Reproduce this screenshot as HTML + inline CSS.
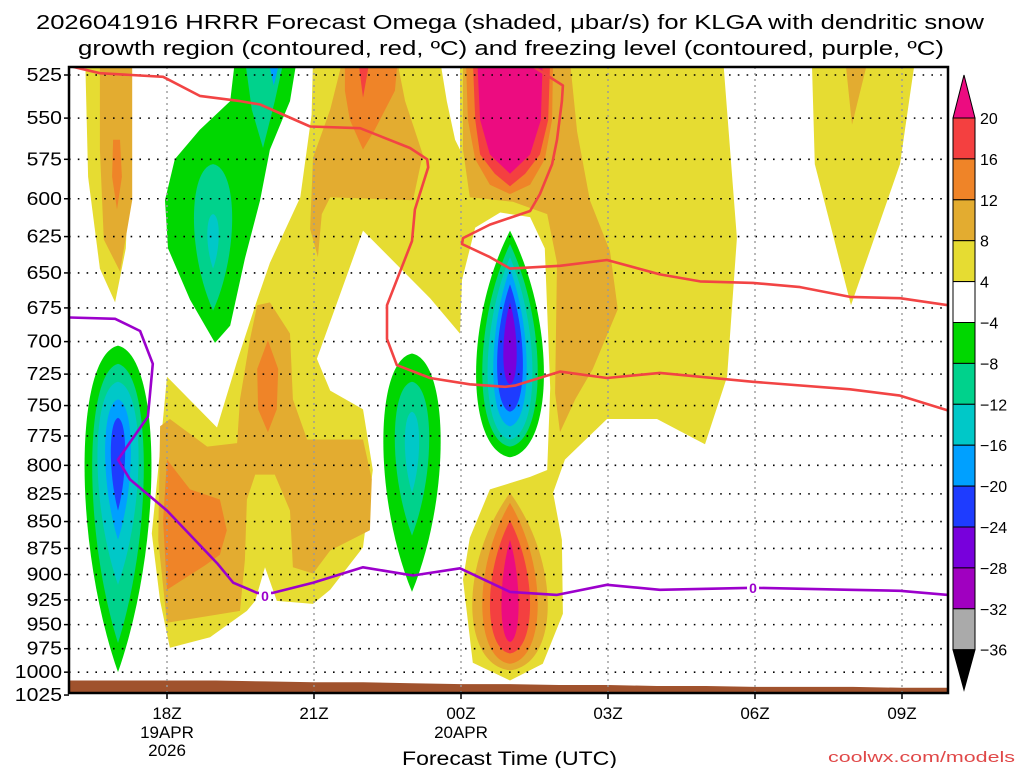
<!DOCTYPE html>
<html><head><meta charset="utf-8"><style>
html,body{margin:0;padding:0;background:#fff;}
svg{display:block;font-family:"Liberation Sans",sans-serif;}
</style></head><body>
<svg id="chart" width="1024" height="768" viewBox="0 0 1024 768" xmlns="http://www.w3.org/2000/svg">
<defs><clipPath id="plotclip"><rect x="69" y="67" width="879" height="626"/></clipPath></defs>
<text x="36" y="29" font-size="20" textLength="948" lengthAdjust="spacingAndGlyphs">2026041916 HRRR Forecast Omega (shaded, μbar/s) for KLGA with dendritic snow</text>
<text x="78" y="55" font-size="20" textLength="866" lengthAdjust="spacingAndGlyphs">growth region (contoured, red, ºC) and freezing level (contoured, purple, ºC)</text>
<g id="plot" clip-path="url(#plotclip)"></g>
<g id="axes"></g>
<g id="cbar"></g>
<text x="402" y="765" font-size="19" textLength="215" lengthAdjust="spacingAndGlyphs">Forecast Time (UTC)</text>
<text x="828" y="762" font-size="15" fill="#e04848" textLength="187" lengthAdjust="spacingAndGlyphs">coolwx.com/models</text>
</svg>
<script>
// ---- data (time t = hours since 16Z 19 APR, pressure in hPa) ----
const pressureTicks = [525,550,575,600,625,650,675,700,725,750,775,800,825,850,875,900,925,950,975,1000,1025];
const timeTicks = [2,5,8,11,14,17];
const timeLabels = ["18Z","21Z","00Z","03Z","06Z","09Z"];
const cbarLevels = [20,16,12,8,4,-4,-8,-12,-16,-20,-24,-28,-32,-36];
const surfacePressure = [1009,1009,1009,1009,1010,1011,1011,1012,1013,1013,1014,1014,1015,1015,1016,1016,1016,1017,1017];

const yellowMain = [[4.98,516],[7.57,516],[7.71,540],[7.88,563],[7.98,569],[7.98,516],[13.35,516],[13.63,626],[13.43,727],[12.98,782],[12.0,761],[10.98,761],[10.12,795],[9.88,824],[10.06,867],[10.08,939],[9.67,991],[9.0,1009],[8.24,990],[8.04,905],[8.18,865],[8.59,821],[9.41,810],[9.76,804],[9.82,736],[9.71,633],[9.41,612],[8.8,609],[8.29,619],[8.02,655],[7.98,694],[7.37,668],[6.0,621],[5.06,713],[5.33,738],[6.0,753],[6.2,804],[6.0,874],[5.33,915],[4.98,929],[4.24,926],[4.0,893],[3.8,926],[3.63,936],[2.88,963],[2.06,974],[1.86,926],[1.69,861],[1.86,787],[2.0,727],[3.02,768],[3.43,715],[3.84,669],[4.1,643],[4.72,599],[4.95,548]];
const yellowLeft = [[0.33,516],[1.2,516],[1.24,569],[1.16,633],[0.94,671],[0.63,647],[0.39,586]];
const yellowRight = [[15.16,516],[17.27,516],[16.96,578],[15.96,673],[15.22,578]];
const goldLeft = [[0.63,516],[1.29,516],[1.29,601],[1.04,649],[0.71,627],[0.63,569]];
const goldUpper = [[5.59,516],[6.69,516],[6.86,540],[7.22,572],[7.02,601],[5.33,599],[5.16,610],[5.08,639],[4.92,620],[4.98,574],[5.33,545]];
const goldCenter = [[8.04,516],[10.22,516],[10.37,558],[10.63,601],[11.04,635],[11.2,676],[10.69,721],[10.33,745],[10.02,772],[9.92,740],[9.96,643],[9.76,610],[9.06,602],[8.18,599],[8.04,569]];
const goldLower = [[3.84,673],[4.1,671],[4.51,694],[4.57,745],[4.86,778],[6.0,778],[6.18,812],[6.14,858],[5.33,877],[4.98,899],[4.57,893],[4.51,840],[4.2,808],[3.8,808],[3.63,830],[3.59,886],[3.49,936],[2.0,948],[1.82,867],[1.86,767],[2.06,761],[2.82,784],[3.43,781],[3.49,745],[3.69,699]];
const goldRight = [[15.84,516],[16.31,516],[15.98,554]];
const orangeLeft = [[0.9,563],[1.04,563],[1.08,586],[0.98,607],[0.88,586]];
const orangeUpper = [[5.63,516],[6.71,516],[6.65,534],[6.24,557],[6.0,569],[5.73,551],[5.63,534]];
const orangeCenter = [[8.1,516],[9.88,516],[9.86,551],[9.71,575],[9.41,591],[9.0,597],[8.59,591],[8.29,575],[8.14,551]];
const orangeLow1 = [[4.06,699],[4.27,721],[4.24,753],[4.06,772],[3.86,753],[3.84,721]];
const orangeLow2 = [[2.0,795],[2.47,821],[3.08,830],[3.22,858],[3.08,881],[2.78,891],[2.0,915],[1.92,849]];
const redUpper = [[5.9,516],[6.14,516],[6.0,538]];
const redCenter = [[8.24,516],[9.82,516],[9.78,551],[9.61,572],[9.31,584],[9.0,592],[8.69,584],[8.39,572],[8.29,551]];
const magentaCenter = [[8.33,516],[9.67,516],[9.63,551],[9.41,572],[9.0,584],[8.59,572],[8.39,551]];
const greenUpper = [[3.39,516],[4.65,516],[4.51,540],[4.1,569],[3.9,601],[3.59,640],[3.29,688],[2.98,701],[2.47,669],[2.02,633],[1.96,601],[2.16,575],[2.67,557],[3.29,540]];
const tealUpper = [[3.59,516],[4.39,516],[4.2,540],[3.96,568],[3.73,545]];
const lightBlueUpper = [[4.06,516],[4.31,516],[4.18,531]];
// lens blobs: [centre time, top pressure, bottom pressure, half-width hours, level, roundEnd(1=top,-1=bottom)]
const lensBlobs = [
 [9.0,824,998,0.79,8,-1],[9.0,833,991,0.58,12,-1],[9.0,849,980,0.42,16,-1],[9.0,867,968,0.18,20,-1],
 [1.0,703,1000,0.70,-4,1],[1.0,717,969,0.54,-8,1],[1.0,731,910,0.43,-12,1],[1.0,745,867,0.27,-16,1],[1.0,760,840,0.15,-20,1],
 [2.94,578,677,0.40,-8,1],[2.94,610,647,0.12,-12,1],
 [7.0,709,917,0.60,-4,1],[7.0,731,863,0.36,-8,1],[7.0,755,824,0.15,-12,1],
 [9.0,621,793,0.71,-4,-1],[9.0,630,784,0.58,-8,-1],[9.0,639,778,0.47,-12,-1],[9.0,647,767,0.35,-16,-1],[9.0,658,755,0.27,-20,-1],[9.0,671,733,0.14,-24,-1]
];
const dgzLower = [[0.02,520],[0.63,524],[1.92,526],[2.67,537],[3.49,540],[3.9,542],[4.92,555],[5.94,556],[6.96,568],[7.31,575],[7.33,580],[7.06,607],[7.0,628],[6.49,673],[6.49,698],[6.69,718],[7.37,728],[8.18,733],[8.9,735],[9.1,734],[10.02,723],[10.98,728],[12.06,724],[13.96,731],[15.94,737],[16.96,742],[17.94,754]];
const dgzUpper = [[9.35,518],[10.08,531],[10.06,540],[9.96,563],[9.86,578],[9.61,597],[9.41,608],[8.59,617],[8.04,626],[8.02,630],[8.59,639],[9.0,647],[10.02,645],[10.98,641],[12.06,651],[12.88,656],[13.96,657],[14.92,660],[15.94,667],[16.96,668],[17.94,673]];
const freezingLevel = [[0.02,682],[0.94,683],[1.45,692],[1.71,717],[1.61,759],[1.0,795],[1.24,812],[2.0,840],[3.02,889],[3.35,908],[3.84,918],[4.16,918],[4.98,908],[6.0,893],[7.02,901],[7.98,894],[9.0,917],[9.96,920],[10.98,910],[12.06,915],[13.96,913],[15.94,915],[16.96,916],[17.94,920]];
const freezingLabels = [[4.0,921],[13.96,913]];

const colors = {"20":"#ec0c80","16":"#f44040","12":"#ef8428","8":"#e3ac30","4":"#e6dc32","-4":"#00d700","-8":"#00d28c","-12":"#00c8c8","-16":"#00a0ff","-20":"#1e3cff","-24":"#7800dc","-28":"#a000c0","-32":"#aaaaaa"};

const polyShapes = [
 [yellowMain,4,'yellow-region-main'],[yellowLeft,4,'yellow-region-left'],[yellowRight,4,'yellow-region-right'],
 [goldLeft,8,'gold-region-left'],[goldUpper,8,'gold-region-upper'],[goldCenter,8,'gold-region-center'],[goldLower,8,'gold-region-lower'],[goldRight,8,'gold-region-right'],
 [orangeLeft,12,'orange-region-left'],[orangeUpper,12,'orange-region-upper'],[orangeCenter,12,'orange-region-center'],[orangeLow1,12,'orange-region-low1'],[orangeLow2,12,'orange-region-low2'],
 [redUpper,16,'red-region-upper'],[redCenter,16,'red-region-center'],[magentaCenter,20,'magenta-region-center'],
 [greenUpper,-4,'green-region-upper'],[tealUpper,-8,'teal-region-upper'],[lightBlueUpper,-16,'lightblue-region-upper']
];

// ---- axis functions ----
function X(t){return 69+49*t;}
function Y(p){return 75+620*Math.log(p/525)/0.669;}
const NS="http://www.w3.org/2000/svg";
function mk(tag,attrs,parent){const e=document.createElementNS(NS,tag);for(const k in attrs)e.setAttribute(k,attrs[k]);parent.appendChild(e);return e;}
const plot=document.getElementById('plot'), axes=document.getElementById('axes'), cbar=document.getElementById('cbar');

function order(l){return l>0? l : 100-l;}
const items=[];
polyShapes.forEach(s=>items.push({kind:'poly',pts:s[0],level:s[1],name:s[2]}));
lensBlobs.forEach(b=>items.push({kind:'lens',b:b,level:b[4],name:'omega-blob'}));
items.sort((a,b)=>order(a.level)-order(b.level));
items.forEach(it=>{
  let d;
  if(it.kind==='poly'){
    d='M'+it.pts.map(q=>X(q[0]).toFixed(1)+','+Y(q[1]).toFixed(1)).join(' L')+' Z';
  } else {
    const b=it.b, xc=X(b[0]), yt=Y(b[1]), yb=Y(b[2]), w=49*b[3]/0.75, h=yb-yt;
    if(b[5]>0){
      d=`M${xc},${yt} C${xc+w*0.95},${yt+h*0.03} ${xc+w},${yb-h*0.4} ${xc},${yb} C${xc-w},${yb-h*0.4} ${xc-w*0.95},${yt+h*0.03} ${xc},${yt} Z`;
    } else {
      d=`M${xc},${yb} C${xc+w*0.95},${yb-h*0.03} ${xc+w},${yt+h*0.4} ${xc},${yt} C${xc-w},${yt+h*0.4} ${xc-w*0.95},${yb-h*0.03} ${xc},${yb} Z`;
    }
  }
  const e=mk('path',{d:d,fill:colors[String(it.level)]},plot);
  
  
});

// ground
{
  let d='M'+X(0)+','+Y(1040);
  surfacePressure.forEach((p,i)=>{d+=' L'+X(i)+','+Y(p).toFixed(1);});
  d+=' L'+X(18)+','+Y(1040)+' Z';
  const g=mk('path',{d:d,fill:'#a0522d'},plot);
  
  
}

// grid
pressureTicks.forEach(p=>{
  const l=mk('line',{x1:69,x2:948,y1:Y(p),y2:Y(p),stroke:'#000','stroke-width':1.6,'stroke-dasharray':'1.6 7.2'},plot);
  
  
});
timeTicks.forEach(t=>{
  const l=mk('line',{x1:X(t),x2:X(t),y1:67,y2:693,stroke:'#9a9a9a','stroke-width':1.4,'stroke-dasharray':'2 4'},plot);
  
  
});

// contour lines
function line(pts,color,name){
  const e=mk('polyline',{points:pts.map(q=>X(q[0]).toFixed(1)+','+Y(q[1]).toFixed(1)).join(' '),fill:'none',stroke:color,'stroke-width':2.6,'stroke-linejoin':'round'},plot);
  
  
}
line(dgzLower,'#f24444','dgz-contour-lower');
line(dgzUpper,'#f24444','dgz-contour-upper');
line(freezingLevel,'#9c00cc','freezing-level-contour');
freezingLabels.forEach(q=>{
  const r=mk('rect',{x:X(q[0])-6,y:Y(q[1])-8,width:12,height:16,fill:'#fff'},plot);
  
  
  const t=mk('text',{x:X(q[0]),y:Y(q[1])+5,'font-size':14,'font-weight':'bold','text-anchor':'middle',fill:'#9c00cc'},plot);
  t.textContent='0';
  
  
});

// frame & axes
{
  const f=mk('rect',{x:69,y:67,width:879,height:626,fill:'none',stroke:'#000','stroke-width':2.5},axes);
  
  
}
pressureTicks.forEach(p=>{
  const tk=mk('line',{x1:64,x2:69,y1:Y(p),y2:Y(p),stroke:'#000','stroke-width':1.5},axes);
  
  
  const s=String(p);
  const t=mk('text',{x:62,y:Y(p)+6,'font-size':18,'text-anchor':'end',textLength:s.length*11.8,lengthAdjust:'spacingAndGlyphs'},axes);
  t.textContent=s;
  
  
});
timeTicks.forEach((tt,i)=>{
  const tk=mk('line',{x1:X(tt),x2:X(tt),y1:693,y2:699,stroke:'#000','stroke-width':1.5},axes);
  
  
  const t=mk('text',{x:X(tt),y:719,'font-size':17,'text-anchor':'middle'},axes);
  t.textContent=timeLabels[i];
  
  
});
[[2,738,'19APR'],[2,756,'2026'],[8,738,'20APR']].forEach(a=>{
  const t=mk('text',{x:X(a[0]),y:a[1],'font-size':17,'text-anchor':'middle'},axes);
  t.textContent=a[2];
  
  
});

// colorbar
function cbY(v){const i=cbarLevels.indexOf(v);return 118+i*40.9;}
{
  const top=mk('path',{d:`M953,${cbY(20)} L975,${cbY(20)} L964,75 Z`,fill:colors["20"],stroke:'#000','stroke-width':1},cbar);
  
  
  for(let i=0;i<cbarLevels.length-1;i++){
    const v=cbarLevels[i], nxt=cbarLevels[i+1];
    const fill = v===4 ? '#fff' : colors[String(v>0? nxt: v)];
    const r=mk('rect',{x:953,y:cbY(v),width:22,height:cbY(nxt)-cbY(v),fill:fill,stroke:'#000','stroke-width':1},cbar);
    
    
  }
  const bot=mk('path',{d:`M953,${cbY(-36)} L975,${cbY(-36)} L964,690 Z`,fill:'#000',stroke:'#000','stroke-width':1},cbar);
  
  
  cbarLevels.forEach(v=>{
    const t=mk('text',{x:980,y:cbY(v)+6,'font-size':16},cbar);
    t.textContent=(v<0?'\u2212':'')+Math.abs(v);
    
    
  });
}
</script>
</body></html>
